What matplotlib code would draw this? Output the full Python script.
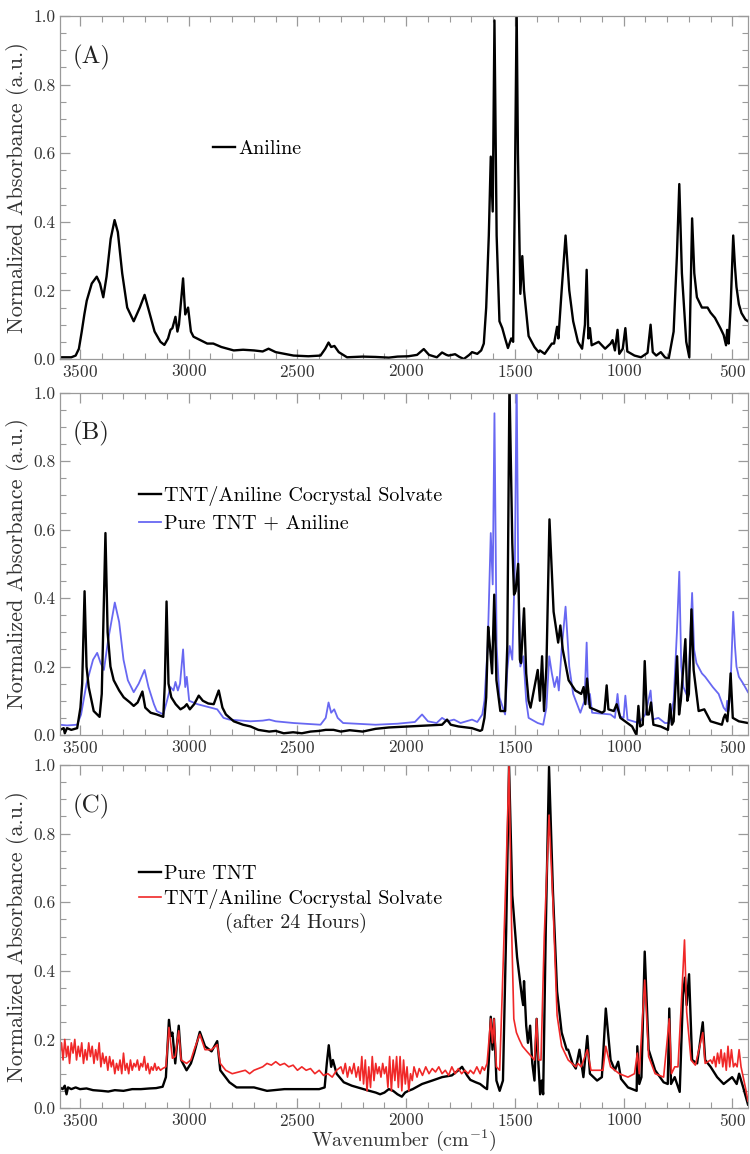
import matplotlib
matplotlib.use("Agg")
import matplotlib.pyplot as plt
from matplotlib.ticker import MultipleLocator

# Spectra: (wavenumber cm-1, normalized absorbance)
aniline = [
    (3592, 0.005), (3540, 0.005), (3520, 0.01), (3505, 0.03), (3492, 0.08), (3480, 0.13), (3469, 0.17),
    (3446, 0.22), (3423, 0.24), (3408, 0.22), (3393, 0.18), (3378, 0.24), (3359, 0.35), (3341, 0.405),
    (3326, 0.37), (3306, 0.25), (3283, 0.15), (3253, 0.11), (3225, 0.15), (3203, 0.187), (3183, 0.14),
    (3157, 0.08), (3130, 0.05), (3112, 0.041), (3095, 0.06), (3084, 0.085), (3075, 0.09), (3061, 0.123),
    (3052, 0.08), (3045, 0.1), (3026, 0.235), (3016, 0.13), (3003, 0.15), (2990, 0.08), (2978, 0.065),
    (2946, 0.055), (2915, 0.045), (2887, 0.045), (2850, 0.035), (2793, 0.025), (2750, 0.027),
    (2700, 0.025), (2660, 0.022), (2633, 0.03), (2600, 0.02), (2518, 0.01), (2450, 0.008), (2394, 0.01),
    (2372, 0.03), (2357, 0.048), (2345, 0.035), (2330, 0.038), (2310, 0.02), (2272, 0.005), (2200, 0.007),
    (2141, 0.006), (2080, 0.004), (2040, 0.007), (1990, 0.008), (1950, 0.012), (1919, 0.029),
    (1895, 0.012), (1859, 0.005), (1835, 0.019), (1815, 0.012), (1805, 0.01), (1775, 0.014),
    (1755, 0.006), (1735, 0.0), (1710, 0.012), (1697, 0.02), (1673, 0.015), (1655, 0.025), (1643, 0.045),
    (1632, 0.15), (1620, 0.36), (1611, 0.59), (1602, 0.43), (1594, 0.987), (1584, 0.36), (1571, 0.11),
    (1558, 0.09), (1545, 0.06), (1532, 0.032), (1517, 0.06), (1508, 0.05), (1500, 0.5), (1492, 1.02),
    (1486, 0.6), (1475, 0.19), (1466, 0.3), (1458, 0.2), (1437, 0.067), (1410, 0.035), (1391, 0.02),
    (1385, 0.025), (1363, 0.015), (1330, 0.045), (1320, 0.045), (1306, 0.094), (1300, 0.06),
    (1285, 0.2), (1267, 0.36), (1250, 0.2), (1232, 0.11), (1210, 0.05), (1191, 0.03), (1178, 0.1),
    (1170, 0.26), (1162, 0.06), (1155, 0.09), (1147, 0.04), (1115, 0.05), (1085, 0.03), (1060, 0.045),
    (1051, 0.055), (1040, 0.025), (1028, 0.085), (1020, 0.015), (1004, 0.03), (992, 0.09), (983, 0.022),
    (950, 0.01), (920, 0.005), (890, 0.018), (876, 0.1), (866, 0.02), (850, 0.01), (829, 0.02),
    (810, 0.005), (793, 0.0), (770, 0.08), (755, 0.3), (744, 0.51), (732, 0.25), (712, 0.05),
    (698, 0.005), (685, 0.41), (675, 0.25), (663, 0.18), (640, 0.15), (614, 0.15), (600, 0.135),
    (580, 0.12), (555, 0.09), (540, 0.07), (529, 0.04), (524, 0.085), (517, 0.045), (508, 0.15),
    (496, 0.36), (488, 0.27), (481, 0.21), (470, 0.16), (458, 0.134), (440, 0.115), (428, 0.11),
]

cocrystal = [
    (3592, 0.015), (3575, 0.02), (3570, 0.005), (3560, 0.02), (3540, 0.015), (3513, 0.02), (3498, 0.08),
    (3490, 0.15), (3479, 0.42), (3470, 0.2), (3460, 0.14), (3437, 0.07), (3410, 0.053), (3400, 0.12),
    (3383, 0.59), (3373, 0.3), (3360, 0.2), (3345, 0.16), (3320, 0.13), (3299, 0.11), (3270, 0.095),
    (3253, 0.085), (3235, 0.095), (3213, 0.127), (3200, 0.08), (3175, 0.065), (3147, 0.06), (3117, 0.053),
    (3110, 0.15), (3102, 0.39), (3093, 0.15), (3080, 0.11), (3060, 0.09), (3038, 0.075), (3020, 0.082),
    (3009, 0.09), (2995, 0.075), (2975, 0.09), (2954, 0.115), (2935, 0.1), (2910, 0.092), (2885, 0.09),
    (2862, 0.13), (2845, 0.08), (2829, 0.06), (2793, 0.04), (2750, 0.03), (2716, 0.025), (2680, 0.015),
    (2630, 0.01), (2600, 0.012), (2563, 0.005), (2520, 0.008), (2480, 0.005), (2440, 0.01), (2400, 0.012),
    (2370, 0.015), (2334, 0.015), (2300, 0.01), (2260, 0.014), (2200, 0.01), (2141, 0.018), (2080, 0.022),
    (1988, 0.025), (1900, 0.028), (1835, 0.03), (1812, 0.045), (1795, 0.03), (1760, 0.025), (1697, 0.02),
    (1660, 0.012), (1651, 0.015), (1640, 0.05), (1632, 0.11), (1623, 0.316), (1615, 0.26), (1605, 0.18),
    (1595, 0.41), (1585, 0.16), (1567, 0.07), (1545, 0.07), (1535, 0.26), (1525, 1.03), (1512, 0.56),
    (1504, 0.41), (1497, 0.42), (1485, 0.5), (1477, 0.22), (1472, 0.21), (1458, 0.37), (1448, 0.18),
    (1437, 0.1), (1428, 0.08), (1395, 0.19), (1385, 0.1), (1375, 0.23), (1366, 0.07), (1355, 0.2),
    (1341, 0.63), (1322, 0.36), (1301, 0.27), (1291, 0.32), (1280, 0.25), (1253, 0.16), (1222, 0.13),
    (1195, 0.12), (1184, 0.14), (1176, 0.09), (1168, 0.165), (1155, 0.08), (1099, 0.065), (1088, 0.07),
    (1078, 0.145), (1070, 0.075), (1045, 0.07), (1032, 0.09), (1015, 0.05), (961, 0.025), (941, 0.0),
    (932, 0.085), (924, 0.025), (912, 0.03), (903, 0.216), (893, 0.06), (884, 0.06), (874, 0.095),
    (863, 0.03), (830, 0.025), (796, 0.015), (786, 0.09), (778, 0.03), (770, 0.04), (754, 0.23),
    (745, 0.06), (737, 0.1), (716, 0.28), (707, 0.1), (700, 0.12), (688, 0.367), (678, 0.19), (655, 0.07),
    (629, 0.075), (600, 0.04), (548, 0.03), (540, 0.05), (533, 0.06), (523, 0.04), (515, 0.1),
    (508, 0.18), (498, 0.05), (470, 0.04), (428, 0.035),
]

tnt_plus_aniline = [
    (3592, 0.03), (3560, 0.028), (3513, 0.03), (3495, 0.06), (3470, 0.15), (3440, 0.22), (3421, 0.24),
    (3405, 0.21), (3390, 0.19), (3370, 0.28), (3340, 0.387), (3320, 0.33), (3300, 0.22), (3280, 0.16),
    (3253, 0.125), (3230, 0.15), (3203, 0.19), (3185, 0.14), (3160, 0.09), (3147, 0.07), (3117, 0.06),
    (3100, 0.1), (3084, 0.14), (3070, 0.13), (3061, 0.155), (3050, 0.13), (3040, 0.15), (3026, 0.25),
    (3016, 0.14), (3009, 0.17), (2998, 0.1), (2960, 0.09), (2900, 0.08), (2869, 0.075), (2840, 0.05),
    (2813, 0.045), (2716, 0.04), (2660, 0.042), (2630, 0.045), (2600, 0.04), (2518, 0.035), (2394, 0.03),
    (2370, 0.05), (2357, 0.095), (2345, 0.065), (2331, 0.075), (2315, 0.05), (2290, 0.035), (2141, 0.03),
    (2040, 0.033), (1960, 0.038), (1927, 0.06), (1900, 0.04), (1860, 0.035), (1835, 0.05), (1810, 0.04),
    (1780, 0.045), (1750, 0.035), (1697, 0.045), (1673, 0.038), (1650, 0.06), (1640, 0.1), (1625, 0.26),
    (1611, 0.59), (1602, 0.44), (1594, 0.94), (1584, 0.26), (1571, 0.11), (1545, 0.06), (1535, 0.19),
    (1524, 0.26), (1512, 0.22), (1500, 0.5), (1492, 1.05), (1485, 0.5), (1475, 0.2), (1461, 0.23),
    (1448, 0.1), (1437, 0.05), (1395, 0.035), (1370, 0.03), (1355, 0.08), (1342, 0.23), (1330, 0.18),
    (1318, 0.14), (1306, 0.17), (1298, 0.13), (1285, 0.25), (1267, 0.375), (1250, 0.2), (1232, 0.12),
    (1199, 0.065), (1180, 0.1), (1170, 0.27), (1162, 0.09), (1155, 0.12), (1145, 0.065), (1060, 0.06),
    (1040, 0.05), (1028, 0.12), (1018, 0.055), (1000, 0.05), (992, 0.115), (982, 0.045), (930, 0.035),
    (900, 0.06), (876, 0.13), (866, 0.045), (840, 0.05), (810, 0.035), (790, 0.035), (770, 0.1),
    (755, 0.3), (744, 0.477), (735, 0.2), (725, 0.14), (705, 0.11), (685, 0.415), (676, 0.25),
    (665, 0.21), (640, 0.18), (625, 0.17), (590, 0.14), (563, 0.12), (540, 0.08), (528, 0.07),
    (524, 0.1), (517, 0.07), (508, 0.15), (496, 0.36), (488, 0.26), (481, 0.2), (470, 0.17),
    (450, 0.15), (428, 0.125),
]

pure_tnt = [
    (3592, 0.06), (3580, 0.055), (3570, 0.065), (3562, 0.04), (3555, 0.06), (3540, 0.055), (3520, 0.06),
    (3500, 0.055), (3470, 0.057), (3440, 0.052), (3400, 0.05), (3370, 0.048), (3340, 0.052), (3300, 0.05),
    (3260, 0.055), (3220, 0.055), (3180, 0.057), (3150, 0.058), (3120, 0.062), (3105, 0.09), (3091, 0.257),
    (3083, 0.21), (3075, 0.22), (3062, 0.13), (3046, 0.24), (3035, 0.14), (3010, 0.11), (2990, 0.13),
    (2975, 0.16), (2949, 0.222), (2925, 0.18), (2895, 0.165), (2869, 0.195), (2855, 0.11), (2813, 0.075),
    (2780, 0.06), (2700, 0.06), (2640, 0.05), (2560, 0.055), (2494, 0.055), (2400, 0.055), (2375, 0.06),
    (2365, 0.13), (2356, 0.183), (2345, 0.12), (2337, 0.14), (2320, 0.1), (2287, 0.075), (2250, 0.065),
    (2169, 0.05), (2140, 0.045), (2120, 0.04), (2100, 0.045), (2080, 0.055), (2060, 0.05), (2040, 0.04),
    (2020, 0.033), (2005, 0.045), (1990, 0.05), (1970, 0.055), (1927, 0.07), (1880, 0.08), (1835, 0.09),
    (1790, 0.095), (1760, 0.11), (1743, 0.12), (1720, 0.095), (1705, 0.082), (1680, 0.075), (1660, 0.07),
    (1640, 0.06), (1628, 0.055), (1620, 0.14), (1611, 0.266), (1603, 0.17), (1596, 0.26), (1585, 0.08),
    (1570, 0.05), (1555, 0.08), (1540, 0.52), (1527, 1.0), (1512, 0.62), (1490, 0.44), (1467, 0.32),
    (1462, 0.3), (1458, 0.37), (1448, 0.24), (1440, 0.19), (1430, 0.24), (1420, 0.13), (1410, 0.08),
    (1400, 0.26), (1392, 0.13), (1384, 0.04), (1377, 0.08), (1370, 0.04), (1358, 0.52), (1343, 0.995),
    (1325, 0.63), (1306, 0.34), (1285, 0.22), (1262, 0.17), (1255, 0.17), (1235, 0.13), (1220, 0.115),
    (1203, 0.17), (1185, 0.09), (1167, 0.21), (1155, 0.1), (1122, 0.08), (1100, 0.09), (1082, 0.29),
    (1060, 0.14), (1040, 0.11), (1025, 0.135), (1012, 0.085), (980, 0.06), (940, 0.05), (937, 0.18),
    (928, 0.07), (918, 0.09), (903, 0.456), (885, 0.17), (855, 0.11), (816, 0.075), (797, 0.07),
    (790, 0.29), (782, 0.07), (765, 0.09), (742, 0.047), (727, 0.33), (718, 0.38), (710, 0.3),
    (699, 0.39), (685, 0.14), (662, 0.13), (636, 0.25), (625, 0.14), (600, 0.12), (570, 0.09),
    (540, 0.07), (501, 0.09), (480, 0.07), (469, 0.1), (450, 0.06), (428, 0.01),
]

aged_cocrystal = [
    (3592, 0.16), (3585, 0.19), (3578, 0.14), (3570, 0.2), (3562, 0.15), (3555, 0.18), (3548, 0.13),
    (3540, 0.19), (3532, 0.16), (3524, 0.2), (3516, 0.14), (3508, 0.18), (3500, 0.15), (3492, 0.19),
    (3484, 0.13), (3476, 0.17), (3468, 0.14), (3460, 0.19), (3452, 0.15), (3444, 0.18), (3436, 0.13),
    (3428, 0.17), (3420, 0.14), (3412, 0.19), (3404, 0.12), (3396, 0.16), (3388, 0.13), (3380, 0.15),
    (3372, 0.11), (3364, 0.15), (3356, 0.12), (3348, 0.14), (3340, 0.1), (3332, 0.13), (3324, 0.11),
    (3316, 0.14), (3308, 0.1), (3300, 0.16), (3292, 0.11), (3284, 0.13), (3276, 0.1), (3268, 0.14),
    (3260, 0.11), (3252, 0.13), (3244, 0.12), (3236, 0.14), (3228, 0.11), (3220, 0.13), (3212, 0.12),
    (3204, 0.15), (3196, 0.11), (3188, 0.13), (3180, 0.1), (3172, 0.12), (3164, 0.11), (3156, 0.13),
    (3148, 0.11), (3140, 0.12), (3130, 0.11), (3120, 0.115), (3105, 0.12), (3091, 0.235), (3075, 0.145),
    (3062, 0.15), (3046, 0.225), (3035, 0.14), (3010, 0.13), (2990, 0.14), (2975, 0.17), (2949, 0.215),
    (2925, 0.17), (2895, 0.17), (2869, 0.185), (2855, 0.13), (2830, 0.11), (2800, 0.1), (2770, 0.105),
    (2740, 0.11), (2720, 0.1), (2700, 0.11), (2680, 0.115), (2660, 0.12), (2640, 0.13), (2620, 0.125),
    (2600, 0.135), (2580, 0.125), (2560, 0.13), (2540, 0.12), (2520, 0.125), (2500, 0.11), (2480, 0.12),
    (2460, 0.11), (2440, 0.115), (2420, 0.1), (2400, 0.11), (2380, 0.095), (2360, 0.1), (2340, 0.09),
    (2320, 0.11), (2300, 0.12), (2290, 0.1), (2280, 0.13), (2270, 0.09), (2260, 0.12), (2250, 0.1),
    (2240, 0.13), (2230, 0.09), (2220, 0.12), (2212, 0.08), (2204, 0.15), (2196, 0.07), (2188, 0.14),
    (2180, 0.05), (2172, 0.12), (2164, 0.06), (2156, 0.15), (2148, 0.08), (2140, 0.13), (2132, 0.1),
    (2124, 0.12), (2116, 0.09), (2108, 0.13), (2100, 0.1), (2092, 0.12), (2084, 0.06), (2076, 0.15),
    (2068, 0.05), (2060, 0.14), (2052, 0.08), (2044, 0.15), (2036, 0.06), (2028, 0.15), (2020, 0.05),
    (2012, 0.14), (2004, 0.07), (1996, 0.12), (1988, 0.05), (1980, 0.1), (1972, 0.08), (1964, 0.12),
    (1950, 0.09), (1940, 0.115), (1925, 0.095), (1910, 0.12), (1895, 0.1), (1880, 0.115), (1865, 0.105),
    (1850, 0.12), (1835, 0.1), (1820, 0.11), (1805, 0.095), (1790, 0.12), (1775, 0.1), (1760, 0.115),
    (1745, 0.1), (1730, 0.11), (1715, 0.1), (1705, 0.11), (1690, 0.1), (1675, 0.12), (1660, 0.1),
    (1650, 0.12), (1640, 0.11), (1628, 0.13), (1620, 0.19), (1611, 0.26), (1603, 0.19), (1596, 0.26),
    (1585, 0.12), (1570, 0.11), (1558, 0.34), (1540, 0.7), (1527, 1.0), (1515, 0.52), (1505, 0.26),
    (1493, 0.22), (1480, 0.2), (1465, 0.18), (1445, 0.165), (1410, 0.14), (1400, 0.26), (1392, 0.14),
    (1380, 0.14), (1365, 0.5), (1343, 0.854), (1325, 0.6), (1306, 0.27), (1285, 0.18), (1255, 0.14),
    (1220, 0.12), (1210, 0.13), (1195, 0.12), (1167, 0.17), (1150, 0.11), (1122, 0.11), (1095, 0.11),
    (1082, 0.18), (1060, 0.12), (1020, 0.1), (980, 0.09), (950, 0.1), (937, 0.16), (928, 0.1),
    (903, 0.373), (885, 0.15), (855, 0.1), (816, 0.09), (790, 0.26), (780, 0.1), (765, 0.12),
    (750, 0.12), (735, 0.3), (720, 0.49), (710, 0.28), (690, 0.14), (670, 0.125), (636, 0.22),
    (625, 0.13), (600, 0.14), (592, 0.13), (584, 0.15), (576, 0.12), (568, 0.16), (560, 0.13),
    (552, 0.17), (544, 0.12), (536, 0.16), (528, 0.11), (520, 0.18), (512, 0.12), (504, 0.17),
    (495, 0.12), (487, 0.13), (478, 0.12), (469, 0.17), (460, 0.12), (450, 0.09), (440, 0.06),
    (428, 0.02),
]

panel_labels = ["(A)", "(B)", "(C)"]
x_ticks = [3500, 3000, 2500, 2000, 1500, 1000, 500]
y_ticks = [0.0, 0.2, 0.4, 0.6, 0.8, 1.0]


def xy(pairs):
    return [p[0] for p in pairs], [p[1] for p in pairs]


plt.rcParams["font.family"] = ["cmr10", "DejaVu Serif"]
plt.rcParams["mathtext.fontset"] = "cm"
plt.rcParams["axes.unicode_minus"] = False
plt.rcParams["axes.formatter.use_mathtext"] = True

fig = plt.figure(figsize=(7.5, 11.54), dpi=100)
W, H = 750, 1154
boxes = [(16, 359), (392.7, 735), (765, 1108)]  # top, bottom in pixels
axes = []
for top, bot in boxes:
    ax = fig.add_axes([60 / W, 1 - bot / H, 688 / W, (bot - top) / H])
    axes.append(ax)

grey = "#9a9a9a"
for ax, lab in zip(axes, panel_labels):
    ax.set_xlim(3592, 428)
    ax.set_ylim(0, 1.0)
    ax.set_xticks(x_ticks)
    ax.set_yticks(y_ticks)
    ax.set_yticklabels([f"{v:.1f}" for v in y_ticks])
    ax.xaxis.set_minor_locator(MultipleLocator(100))
    ax.yaxis.set_minor_locator(MultipleLocator(0.05))
    ax.tick_params(which="both", direction="in", top=True, right=True, color=grey,
                   labelsize=12.5, labelcolor="#333333", pad=3)
    ax.tick_params(which="major", length=7, width=0.9)
    ax.tick_params(which="minor", length=4, width=0.8)
    for s in ax.spines.values():
        s.set_color(grey)
        s.set_linewidth(0.9)
    ax.set_ylabel("Normalized Absorbance (a.u.)", fontsize=16, color="#333333", labelpad=3)
    ax.text(0.019, 0.88, lab, transform=ax.transAxes, fontsize=18, color="#222222",
            va="center", ha="left")

# (A)
x, y = xy(aniline)
axes[0].plot(x, y, color="black", lw=1.7, label="Aniline")
axes[0].legend(loc="upper left", bbox_to_anchor=(0.222, 0.64), frameon=False, fontsize=14.5,
               handlelength=1.1, handletextpad=0.15, borderaxespad=0, borderpad=0)

# (B)
x, y = xy(tnt_plus_aniline)
lb, = axes[1].plot(x, y, color="#6868f2", lw=1.3, label="Pure TNT + Aniline")
x, y = xy(cocrystal)
lk, = axes[1].plot(x, y, color="black", lw=1.7, label="TNT/Aniline Cocrystal Solvate")
axes[1].legend(handles=[lk, lb], loc="upper left", bbox_to_anchor=(0.115, 0.727), frameon=False,
               fontsize=14.5, handlelength=1.1, handletextpad=0.15, labelspacing=0.42,
               borderaxespad=0, borderpad=0)

# (C)
x, y = xy(pure_tnt)
axes[2].plot(x, y, color="black", lw=1.7, label="Pure TNT")
x, y = xy(aged_cocrystal)
axes[2].plot(x, y, color="#f02828", lw=1.2, label="TNT/Aniline Cocrystal Solvate")
axes[2].legend(loc="upper left", bbox_to_anchor=(0.115, 0.708), frameon=False, fontsize=14.5,
               handlelength=1.1, handletextpad=0.15, labelspacing=0.3, borderaxespad=0, borderpad=0)
axes[2].text(0.343, 0.539, "(after 24 Hours)", transform=axes[2].transAxes, fontsize=14.5,
             ha="center", va="center", color="#222222")
fig.text(404 / W, 1 - 1146 / H, r"Wavenumber (cm$^{-1}$)", fontsize=14.5, color="#333333",
         ha="center", va="baseline")

fig.savefig("out.png", dpi=100)
